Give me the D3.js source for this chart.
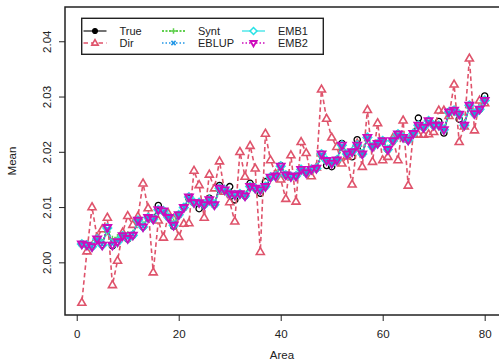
<!DOCTYPE html>
<html>
<head>
<meta charset="utf-8">
<script src="https://cdn.jsdelivr.net/npm/d3@7"></script>
<style>
  html, body { margin: 0; padding: 0; background: #fff; }
  svg { display: block; font-family: "Liberation Sans", Arial, sans-serif; }
</style>
</head>
<body>
<svg id="chart" width="499" height="360"></svg>
<script>
// Small-area mean estimates for 80 areas
const areas = d3.range(1, 81);

const trueMean = [
  2.0033, 2.0031, 2.0029, 2.0042, 2.0032, 2.0063, 2.0030, 2.0037, 2.0048, 2.0042,
  2.0049, 2.0076, 2.0064, 2.0081, 2.0078, 2.0103, 2.0093, 2.0081, 2.0065, 2.0086,
  2.0099, 2.0116, 2.0108, 2.0097, 2.0104, 2.0116, 2.0104, 2.0139, 2.0131, 2.0137,
  2.0113, 2.0124, 2.0120, 2.0143, 2.0134, 2.0125, 2.0146, 2.0154, 2.0156, 2.0175,
  2.0158, 2.0155, 2.0156, 2.0168, 2.0162, 2.0168, 2.0170, 2.0196, 2.0175, 2.0173,
  2.0185, 2.0215, 2.0196, 2.0191, 2.0222, 2.0196, 2.0226, 2.0209, 2.0215, 2.0220,
  2.0204, 2.0220, 2.0232, 2.0226, 2.0221, 2.0233, 2.0261, 2.0244, 2.0256, 2.0248,
  2.0255, 2.0234, 2.0272, 2.0275, 2.0259, 2.0248, 2.0284, 2.0269, 2.0277, 2.0301
];

const dirMean = [
  1.9927, 2.0020, 2.0100, 2.0045, 2.0060, 2.0081, 1.9959, 2.0003, 2.0054, 2.0084,
  2.0068, 2.0083, 2.0143, 2.0098, 1.9982, 2.0076, 2.0045, 2.0088, 2.0079, 2.0046,
  2.0070, 2.0071, 2.0166, 2.0140, 2.0081, 2.0159, 2.0134, 2.0183, 2.0128, 2.0109,
  2.0074, 2.0200, 2.0155, 2.0211, 2.0170, 2.0019, 2.0233, 2.0185, 2.0160, 2.0150,
  2.0115, 2.0194, 2.0110, 2.0218, 2.0198, 2.0156, 2.0172, 2.0313, 2.0260, 2.0226,
  2.0209, 2.0179, 2.0192, 2.0141, 2.0215, 2.0173, 2.0276, 2.0182, 2.0252, 2.0185,
  2.0191, 2.0225, 2.0185, 2.0257, 2.0139, 2.0233, 2.0231, 2.0231, 2.0232, 2.0236,
  2.0275, 2.0275, 2.0265, 2.0322, 2.0218, 2.0246, 2.0369, 2.0239, 2.0293, 2.0288
];

const syntMean = [
  2.0034, 2.0033, 2.0032, 2.0040, 2.0036, 2.0055, 2.0042, 2.0045, 2.0049, 2.0050,
  2.0053, 2.0072, 2.0068, 2.0080, 2.0079, 2.0090, 2.0090, 2.0083, 2.0073, 2.0086,
  2.0097, 2.0112, 2.0107, 2.0108, 2.0105, 2.0112, 2.0107, 2.0129, 2.0128, 2.0123,
  2.0122, 2.0125, 2.0122, 2.0135, 2.0133, 2.0133, 2.0137, 2.0151, 2.0154, 2.0168,
  2.0158, 2.0157, 2.0158, 2.0167, 2.0163, 2.0168, 2.0170, 2.0191, 2.0184, 2.0180,
  2.0186, 2.0207, 2.0197, 2.0200, 2.0210, 2.0198, 2.0222, 2.0210, 2.0215, 2.0219,
  2.0206, 2.0219, 2.0229, 2.0226, 2.0222, 2.0232, 2.0245, 2.0243, 2.0252, 2.0247,
  2.0248, 2.0242, 2.0267, 2.0272, 2.0266, 2.0251, 2.0280, 2.0269, 2.0276, 2.0290
];

const eblupMean = [
  2.0033, 2.0031, 2.0029, 2.0041, 2.0032, 2.0061, 2.0033, 2.0038, 2.0048, 2.0044,
  2.0050, 2.0075, 2.0065, 2.0081, 2.0078, 2.0094, 2.0092, 2.0082, 2.0068, 2.0086,
  2.0099, 2.0117, 2.0108, 2.0108, 2.0104, 2.0113, 2.0105, 2.0133, 2.0131, 2.0124,
  2.0122, 2.0124, 2.0121, 2.0137, 2.0134, 2.0131, 2.0137, 2.0153, 2.0156, 2.0173,
  2.0158, 2.0155, 2.0156, 2.0168, 2.0162, 2.0168, 2.0170, 2.0195, 2.0184, 2.0179,
  2.0185, 2.0211, 2.0196, 2.0200, 2.0212, 2.0196, 2.0225, 2.0209, 2.0215, 2.0220,
  2.0205, 2.0220, 2.0231, 2.0226, 2.0221, 2.0233, 2.0247, 2.0244, 2.0255, 2.0248,
  2.0248, 2.0240, 2.0271, 2.0275, 2.0268, 2.0248, 2.0283, 2.0269, 2.0277, 2.0292
];

const emb1Mean = [
  2.0033, 2.0031, 2.0028, 2.0042, 2.0031, 2.0062, 2.0032, 2.0037, 2.0048, 2.0043,
  2.0049, 2.0076, 2.0064, 2.0081, 2.0078, 2.0095, 2.0093, 2.0081, 2.0067, 2.0086,
  2.0099, 2.0118, 2.0108, 2.0108, 2.0104, 2.0113, 2.0104, 2.0134, 2.0131, 2.0124,
  2.0122, 2.0124, 2.0120, 2.0137, 2.0134, 2.0131, 2.0137, 2.0154, 2.0156, 2.0174,
  2.0158, 2.0155, 2.0156, 2.0168, 2.0162, 2.0168, 2.0170, 2.0196, 2.0184, 2.0179,
  2.0185, 2.0212, 2.0196, 2.0200, 2.0212, 2.0196, 2.0226, 2.0209, 2.0215, 2.0220,
  2.0204, 2.0220, 2.0232, 2.0226, 2.0221, 2.0233, 2.0248, 2.0244, 2.0256, 2.0248,
  2.0248, 2.0240, 2.0272, 2.0275, 2.0268, 2.0248, 2.0284, 2.0269, 2.0277, 2.0293
];

const emb2Mean = [
  2.0033, 2.0031, 2.0028, 2.0042, 2.0031, 2.0063, 2.0031, 2.0037, 2.0048, 2.0043,
  2.0049, 2.0076, 2.0064, 2.0081, 2.0078, 2.0095, 2.0093, 2.0081, 2.0067, 2.0086,
  2.0099, 2.0118, 2.0108, 2.0108, 2.0104, 2.0113, 2.0104, 2.0134, 2.0131, 2.0124,
  2.0122, 2.0124, 2.0120, 2.0137, 2.0134, 2.0131, 2.0137, 2.0154, 2.0156, 2.0174,
  2.0158, 2.0155, 2.0156, 2.0168, 2.0162, 2.0168, 2.0170, 2.0196, 2.0184, 2.0179,
  2.0185, 2.0212, 2.0196, 2.0200, 2.0212, 2.0196, 2.0226, 2.0209, 2.0215, 2.0220,
  2.0204, 2.0220, 2.0232, 2.0226, 2.0221, 2.0233, 2.0248, 2.0244, 2.0256, 2.0248,
  2.0248, 2.0240, 2.0272, 2.0275, 2.0268, 2.0248, 2.0284, 2.0269, 2.0277, 2.0293
];

const xTicks = [0, 20, 40, 60, 80];
const yTicks = [2.00, 2.01, 2.02, 2.03, 2.04];

const seriesNames = ["True", "Dir", "Synt", "EBLUP", "EMB1", "EMB2"];

// Layout of the plotting region
const plotLeft = 65, plotRight = 500.8, plotTop = 7, plotBottom = 315;

const x = d3.scaleLinear().domain([-2.3, 83.16]).range([plotLeft, plotRight]);
const y = d3.scaleLinear().domain([1.99047, 2.0462]).range([plotBottom, plotTop]);

const svg = d3.select("#chart");

// Marker shapes
function markerPath(kind, s) {
  switch (kind) {
    case "circle": {
      const r = s;
      return `M${-r},0A${r},${r} 0 1,0 ${r},0A${r},${r} 0 1,0 ${-r},0Z`;
    }
    case "tri": {
      const h = s * 0.866;
      return `M0,${-h * 0.62}L${s / 2},${h * 0.38}L${-s / 2},${h * 0.38}Z`;
    }
    case "tridown": {
      const h = s * 0.866;
      return `M0,${h * 0.62}L${s / 2},${-h * 0.38}L${-s / 2},${-h * 0.38}Z`;
    }
    case "plus":
      return `M${-s},0L${s},0M0,${-s}L0,${s}`;
    case "cross":
      return `M${-s},${-s}L${s},${s}M${-s},${s}L${s},${-s}`;
    case "diamond":
      return `M0,${-s}L${s},0L0,${s}L${-s},0Z`;
  }
}

const styles = {
  "True":  { values: trueMean,  color: "#000000", dash: null,    lw: 1.1, marker: "circle",  size: 3.1, mw: 1.3 },
  "Dir":   { values: dirMean,   color: "#DF536B", dash: "4.5,3", lw: 1.6, marker: "tri",     size: 8,   mw: 1.6 },
  "Synt":  { values: syntMean,  color: "#61D04F", dash: "2,1.5", lw: 1.8, marker: "plus",    size: 3.4, mw: 1.5 },
  "EBLUP": { values: eblupMean, color: "#2297E6", dash: "1.5,2", lw: 1.5, marker: "cross",   size: 2.6, mw: 1.6 },
  "EMB1":  { values: emb1Mean,  color: "#28E2E5", dash: null,    lw: 1.2, marker: "diamond", size: 4.3, mw: 1.5 },
  "EMB2":  { values: emb2Mean,  color: "#CD0BBC", dash: "1.5,2", lw: 1.5, marker: "tridown", size: 7.8, mw: 1.9 }
};

// Lines broken around each point, as for type = "b"
function gappedSegments(pts, gap) {
  const segs = [];
  for (let i = 0; i < pts.length - 1; i++) {
    const [x0, y0] = pts[i], [x1, y1] = pts[i + 1];
    const dx = x1 - x0, dy = y1 - y0, len = Math.hypot(dx, dy);
    if (len <= 2 * gap) continue;
    const ux = dx / len, uy = dy / len;
    segs.push([[x0 + ux * gap, y0 + uy * gap], [x1 - ux * gap, y1 - uy * gap]]);
  }
  return segs;
}

const marks = svg.append("g");
seriesNames.forEach(name => {
  const st = styles[name];
  const pts = areas.map((a, i) => [x(a), y(st.values[i])]);
  const g = marks.append("g").attr("class", "series-" + name);
  g.selectAll("line")
    .data(gappedSegments(pts, 3))
    .join("line")
    .attr("x1", d => d[0][0]).attr("y1", d => d[0][1])
    .attr("x2", d => d[1][0]).attr("y2", d => d[1][1])
    .attr("stroke", st.color)
    .attr("stroke-width", st.lw)
    .attr("stroke-dasharray", st.dash);
  g.selectAll("path")
    .data(pts)
    .join("path")
    .attr("transform", d => `translate(${d[0]},${d[1]})`)
    .attr("d", markerPath(st.marker, st.size))
    .attr("fill", "none")
    .attr("stroke", st.color)
    .attr("stroke-width", st.mw);
});

// Axes
const axisColor = "#222";
const xAxis = svg.append("g")
  .attr("transform", `translate(0,${plotBottom})`)
  .call(d3.axisBottom(x).tickValues(xTicks).tickSize(6).tickPadding(9).tickFormat(d3.format("d")));
xAxis.select(".domain").remove();
xAxis.selectAll("text").attr("font-size", 11.5).attr("fill", "#222")
  .attr("font-family", "Liberation Sans, Arial, sans-serif");
xAxis.selectAll("line").attr("stroke", axisColor);

const yAxis = svg.append("g")
  .attr("transform", `translate(${plotLeft},0)`)
  .call(d3.axisLeft(y).tickValues(yTicks).tickSize(6).tickFormat(d3.format(".2f")));
yAxis.select(".domain").remove();
yAxis.selectAll("line").attr("stroke", axisColor);
yAxis.selectAll("text")
  .attr("font-size", 11.5).attr("fill", "#222")
  .attr("font-family", "Liberation Sans, Arial, sans-serif")
  .attr("x", null).attr("dy", null)
  .attr("text-anchor", "middle")
  .attr("transform", "translate(-18,0) rotate(-90)")
  .attr("dominant-baseline", "central");

// Plot box
svg.append("rect")
  .attr("x", plotLeft).attr("y", plotTop)
  .attr("width", plotRight - plotLeft).attr("height", plotBottom - plotTop)
  .attr("fill", "none").attr("stroke", axisColor).attr("stroke-width", 1.5);

// Axis titles
svg.append("text")
  .attr("x", (plotLeft + 499) / 2).attr("y", 359)
  .attr("text-anchor", "middle").attr("font-size", 11.5).attr("fill", "#222")
  .text("Area");
svg.append("text")
  .attr("transform", `translate(16,${(plotTop + plotBottom) / 2}) rotate(-90)`)
  .attr("text-anchor", "middle").attr("font-size", 11.5).attr("fill", "#222")
  .text("Mean");

// Legend
const legend = svg.append("g");
legend.append("rect")
  .attr("x", 81.7).attr("y", 18.3).attr("width", 241.6).attr("height", 36)
  .attr("fill", "#fff").attr("stroke", axisColor).attr("stroke-width", 1.4);

const legendCols = [83.5, 162, 242];
const legendRows = [31, 43];
seriesNames.forEach((name, k) => {
  const st = styles[name];
  const cx = legendCols[Math.floor(k / 2)];
  const cy = legendRows[k % 2];
  const item = legend.append("g");
  item.append("line")
    .attr("x1", cx).attr("x2", cx + 23).attr("y1", cy).attr("y2", cy)
    .attr("stroke", st.color).attr("stroke-width", st.lw)
    .attr("stroke-dasharray", st.dash);
  item.append("path")
    .attr("transform", `translate(${cx + 11.5},${cy})`)
    .attr("d", markerPath(st.marker, name === "True" ? 2.4 : st.size * 0.8))
    .attr("fill", name === "True" ? "#000" : "#fff")
    .attr("stroke", st.color).attr("stroke-width", st.mw);
  item.append("text")
    .attr("x", cx + 36).attr("y", cy + 4)
    .attr("font-size", 11).attr("fill", "#222")
    .text(name);
});
</script>
</body>
</html>
